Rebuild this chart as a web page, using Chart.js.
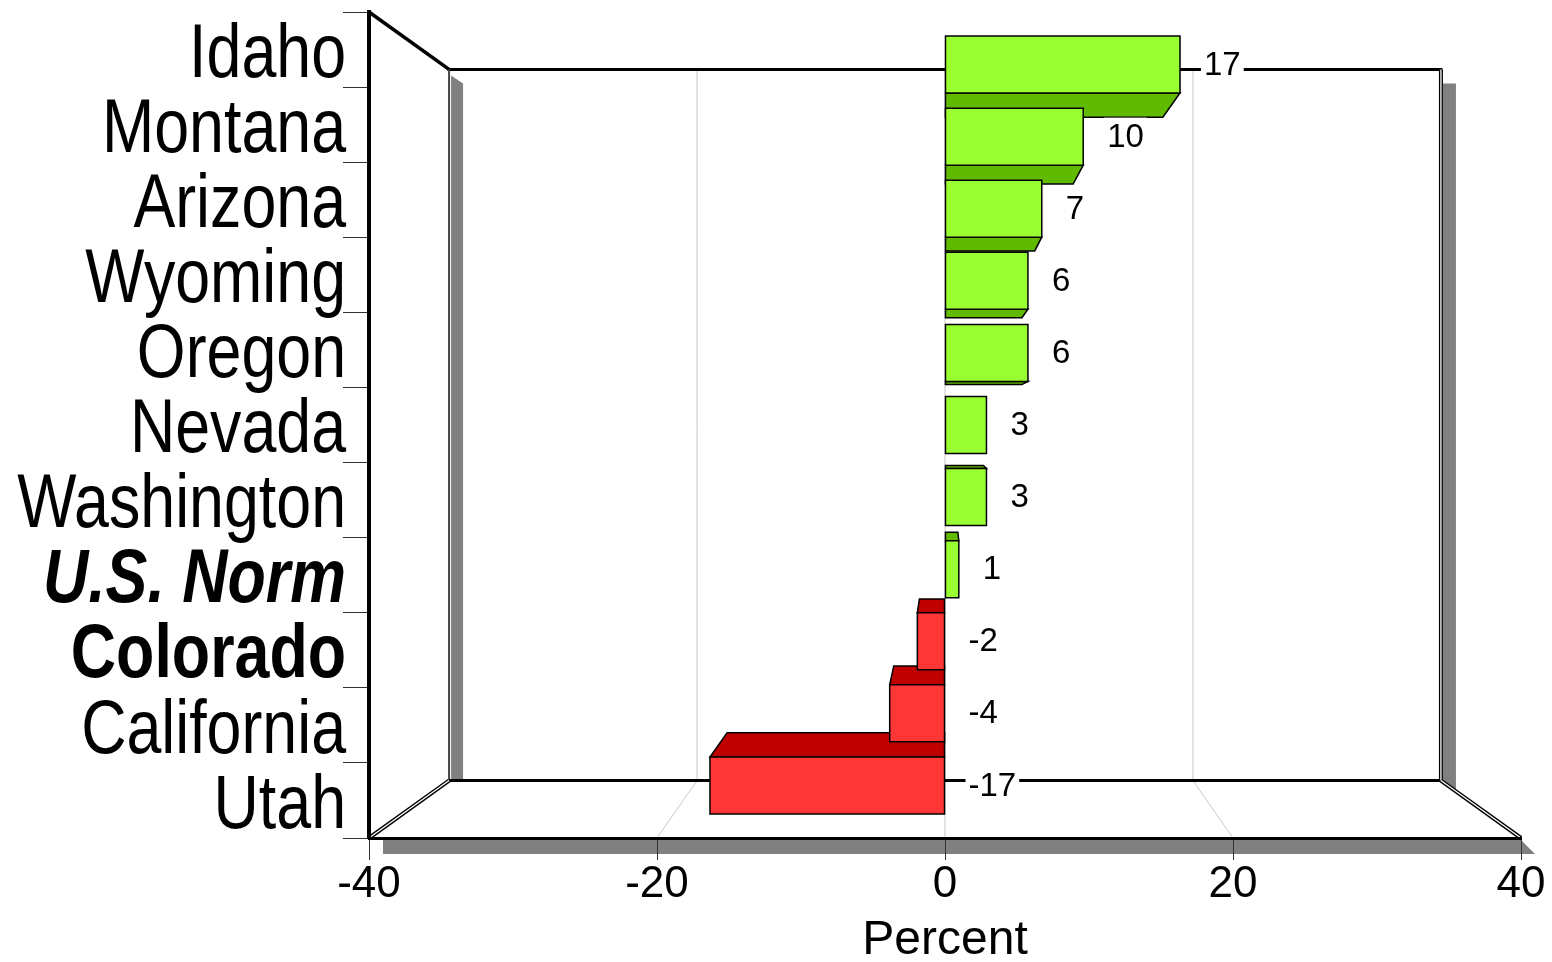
<!DOCTYPE html>
<html>
<head>
<meta charset="utf-8">
<title>Percent change by state</title>
<script src="https://cdn.jsdelivr.net/npm/chart.js@4.4.1/dist/chart.umd.min.js"></script>
<style>
  html, body { margin: 0; padding: 0; background: #ffffff; }
  canvas { display: block; }
</style>
</head>
<body>
<canvas id="chart" width="1552" height="962"></canvas>
<script>
// Categories, top to bottom
const states = ['Idaho', 'Montana', 'Arizona', 'Wyoming', 'Oregon', 'Nevada',
                'Washington', 'U.S. Norm', 'Colorado', 'California', 'Utah'];
// Percent change per state
const percentChange = [17, 10, 7, 6, 6, 3, 3, 1, -2, -4, -17];
// Value axis ticks
const percentTicks = [-40, -20, 0, 20, 40];
const axisTitle = 'Percent';

const SANS = '"Liberation Sans", Arial, Helvetica, sans-serif';

// Depth factors (scale toward the vanishing point at the plot centre)
const K_WALL = 0.861;      // back wall
const K_BAR_FRONT = 0.96;  // front face of the bars
const K_BAR_BACK = 0.89;   // back face of the bars

const POS_FRONT = '#99ff33', POS_SIDE = '#5fba00';
const NEG_FRONT = '#ff3636', NEG_SIDE = '#c00000';
const SHADOW = '#808080';

// Category label style: condensed sans
const LABEL_SIZE = 76;
const LABEL_SQUEEZE = 0.825;

function labelFont(name) {
  const bold = name === 'U.S. Norm' || name === 'Colorado';
  const italic = name === 'U.S. Norm';
  return (italic ? 'italic ' : '') + (bold ? 'bold ' : '') + LABEL_SIZE + 'px ' + SANS;
}

function projector(area) {
  const cx = (area.left + area.right) / 2;
  const cy = (area.top + area.bottom) / 2;
  return {
    cx, cy,
    p: (x, y, k) => ({ x: cx + k * (x - cx), y: cy + k * (y - cy) })
  };
}

function poly(ctx, pts) {
  ctx.beginPath();
  ctx.moveTo(pts[0].x, pts[0].y);
  for (let i = 1; i < pts.length; i++) ctx.lineTo(pts[i].x, pts[i].y);
  ctx.closePath();
}

function line(ctx, a, b, color, width) {
  ctx.beginPath();
  ctx.moveTo(a.x, a.y);
  ctx.lineTo(b.x, b.y);
  ctx.strokeStyle = color;
  ctx.lineWidth = width;
  ctx.stroke();
}

function doubleLine(ctx, a, b) {
  line(ctx, a, b, '#000000', 4);
  line(ctx, a, b, '#ffffff', 1.3);
}

// Walls, floor, shadows and the back-wall grid
const framePlugin = {
  id: 'frame3d',
  beforeDraw(chart) {
    const ctx = chart.ctx;
    const a = chart.chartArea;
    const { p } = projector(a);
    const tl = p(a.left, a.top, K_WALL), tr = p(a.right, a.top, K_WALL);
    const bl = p(a.left, a.bottom, K_WALL), br = p(a.right, a.bottom, K_WALL);
    ctx.save();

    // drop shadows
    ctx.fillStyle = SHADOW;
    poly(ctx, [{x: tl.x + 2, y: tl.y + 6}, {x: tl.x + 14, y: tl.y + 14},
               {x: tl.x + 14, y: bl.y}, {x: tl.x + 2, y: bl.y}]);
    ctx.fill();
    poly(ctx, [{x: tr.x + 2, y: tr.y + 14}, {x: tr.x + 15, y: tr.y + 14},
               {x: tr.x + 15, y: br.y + 10}, {x: tr.x + 2, y: br.y + 1}]);
    ctx.fill();
    poly(ctx, [{x: a.left + 14, y: a.bottom + 2}, {x: a.right, y: a.bottom + 2},
               {x: a.right + 14, y: a.bottom + 16}, {x: a.left + 14, y: a.bottom + 16}]);
    ctx.fill();

    // grid on back wall and floor
    const xs = chart.scales.x;
    xs.ticks.forEach(t => {
      if (t.value === xs.min || t.value === xs.max) return;
      const X = xs.getPixelForValue(t.value);
      const top = p(X, a.top, K_WALL), bot = p(X, a.bottom, K_WALL);
      line(ctx, top, bot, '#c8c8c8', 1);
      line(ctx, bot, {x: X, y: a.bottom}, '#c8c8c8', 1);
    });

    // edges
    line(ctx, {x: a.left, y: a.top}, tl, '#000000', 3.5);
    line(ctx, {x: tl.x - 1.5, y: tl.y}, {x: tr.x + 1.5, y: tr.y}, '#000000', 3);
    line(ctx, tl, bl, '#444444', 2);
    line(ctx, bl, br, '#000000', 3);
    doubleLine(ctx, tr, br);
    doubleLine(ctx, {x: a.left, y: a.bottom}, bl);
    doubleLine(ctx, br, {x: a.right, y: a.bottom});
    ctx.restore();
  }
};

// Condensed category names beside the vertical axis
const categoryLabelPlugin = {
  id: 'categoryLabels',
  afterDraw(chart) {
    const ctx = chart.ctx;
    const ys = chart.scales.y;
    const right = ys.right - ys.options.grid.tickLength + 3;
    ctx.save();
    ctx.fillStyle = '#000000';
    ctx.textAlign = 'right';
    ctx.textBaseline = 'alphabetic';
    chart.data.labels.forEach((name, i) => {
      const y = ys.getPixelForTick(i);
      ctx.font = labelFont(name);
      ctx.save();
      ctx.translate(right, y + LABEL_SIZE * 0.716 / 2);
      ctx.scale(LABEL_SQUEEZE, 1);
      ctx.fillText(name, 0, 0);
      ctx.restore();
    });
    ctx.restore();
  }
};

// Extruded bars and their value labels
const barsPlugin = {
  id: 'bars3d',
  afterDatasetsDraw(chart) {
    const ctx = chart.ctx;
    const a = chart.chartArea;
    const { cx, cy, p } = projector(a);
    const meta = chart.getDatasetMeta(0);
    const values = chart.data.datasets[0].data;

    const boxes = meta.data.map((el, i) => {
      const r = el.getProps(['x', 'y', 'base', 'height'], true);
      return {
        i, v: values[i], yc: r.y,
        x0: Math.min(r.x, r.base), x1: Math.max(r.x, r.base),
        y0: r.y - r.height / 2, y1: r.y + r.height / 2
      };
    });

    // far from the eye first
    const order = boxes.slice().sort((m, n) => Math.abs(n.yc - cy) - Math.abs(m.yc - cy));
    ctx.save();
    ctx.lineJoin = 'miter';
    ctx.lineWidth = 1.5;
    ctx.strokeStyle = '#000000';
    order.forEach(b => {
      const front = b.v >= 0 ? POS_FRONT : NEG_FRONT;
      const side = b.v >= 0 ? POS_SIDE : NEG_SIDE;
      const F = K_BAR_FRONT, B = K_BAR_BACK;
      ctx.fillStyle = side;
      if (b.y1 < cy) {
        poly(ctx, [p(b.x0, b.y1, F), p(b.x1, b.y1, F), p(b.x1, b.y1, B), p(b.x0, b.y1, B)]);
        ctx.fill(); ctx.stroke();
      } else if (b.y0 > cy) {
        poly(ctx, [p(b.x0, b.y0, F), p(b.x1, b.y0, F), p(b.x1, b.y0, B), p(b.x0, b.y0, B)]);
        ctx.fill(); ctx.stroke();
      }
      if (b.x1 < cx - 0.5) {
        poly(ctx, [p(b.x1, b.y0, F), p(b.x1, b.y1, F), p(b.x1, b.y1, B), p(b.x1, b.y0, B)]);
        ctx.fill(); ctx.stroke();
      } else if (b.x0 > cx + 0.5) {
        poly(ctx, [p(b.x0, b.y0, F), p(b.x0, b.y1, F), p(b.x0, b.y1, B), p(b.x0, b.y0, B)]);
        ctx.fill(); ctx.stroke();
      }
      ctx.fillStyle = front;
      poly(ctx, [p(b.x0, b.y0, F), p(b.x1, b.y0, F), p(b.x1, b.y1, F), p(b.x0, b.y1, F)]);
      ctx.fill(); ctx.stroke();
    });

    // value labels on white boxes
    ctx.font = '33px ' + SANS;
    ctx.textBaseline = 'middle';
    ctx.textAlign = 'left';
    boxes.forEach(b => {
      const anchor = p(b.x1, b.yc, K_BAR_FRONT);
      const text = String(b.v);
      const w = ctx.measureText(text).width;
      const tx = anchor.x + 24, ty = anchor.y;
      ctx.fillStyle = '#ffffff';
      ctx.fillRect(tx - 3, ty - 19, w + 6, 38);
      ctx.fillStyle = '#000000';
      ctx.fillText(text, tx, ty + 1);
    });
    ctx.restore();
  }
};

new Chart(document.getElementById('chart'), {
  type: 'bar',
  data: {
    labels: states,
    datasets: [{
      data: percentChange,
      backgroundColor: 'rgba(0,0,0,0)',
      borderWidth: 0,
      barPercentage: 0.79,
      categoryPercentage: 1.0
    }]
  },
  options: {
    indexAxis: 'y',
    responsive: false,
    maintainAspectRatio: false,
    devicePixelRatio: 1,
    animation: false,
    events: [],
    layout: { padding: { top: 12, right: 31, left: 0, bottom: 0 } },
    plugins: { legend: { display: false }, tooltip: { enabled: false } },
    scales: {
      x: {
        type: 'linear',
        min: percentTicks[0],
        max: percentTicks[percentTicks.length - 1],
        afterBuildTicks: s => { s.ticks = percentTicks.map(v => ({ value: v })); },
        afterFit: s => { s.height = 124; s.paddingLeft = 0; s.paddingRight = 0; },
        grid: { drawOnChartArea: false, drawTicks: true, tickLength: 22, color: '#333333', lineWidth: 1 },
        border: { display: true, color: '#000000', width: 3 },
        ticks: { color: '#000000', font: { family: SANS, size: 44 }, padding: -2, maxRotation: 0 },
        title: {
          display: true, text: axisTitle, color: '#000000',
          font: { family: SANS, size: 48 }, padding: { top: 0, bottom: -8 }
        }
      },
      y: {
        type: 'category',
        afterFit: s => { s.width = 369; s.paddingTop = 0; s.paddingBottom = 0; },
        grid: { offset: true, drawOnChartArea: false, drawTicks: true, tickLength: 26, color: '#333333', lineWidth: 1 },
        border: { display: true, color: '#000000', width: 4 },
        ticks: { display: false, autoSkip: false }
      }
    }
  },
  plugins: [framePlugin, barsPlugin, categoryLabelPlugin]
});
</script>
</body>
</html>
